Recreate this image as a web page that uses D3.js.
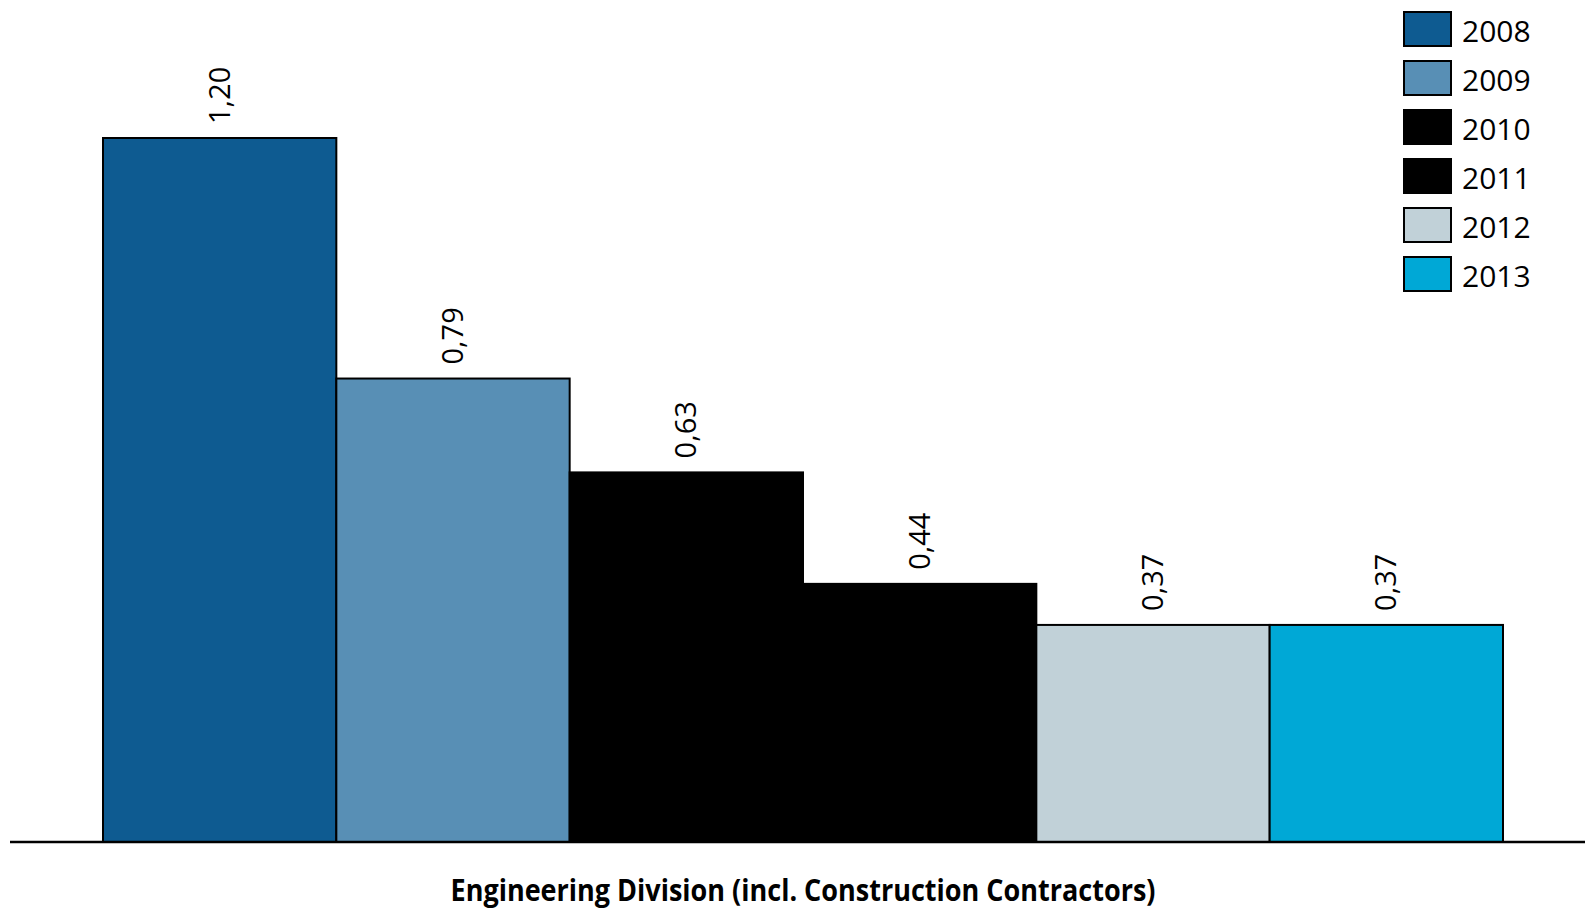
<!DOCTYPE html>
<html>
<head>
<meta charset="utf-8">
<script src="https://cdn.jsdelivr.net/npm/d3@7"></script>
<style>
    body{margin:0;background:#fff;}
    .canvas{width:1585px;height:909px;}
    text{font-family:"Open Sans",sans-serif;fill:#000;}
    .title{font-family:"Liberation Sans Narrow","Open Sans",sans-serif;font-weight:bold;}
</style>
</head>
<body>
<div class="canvas" id="canvas"></div>
<script>
//data
var category = 'Engineering Division (incl. Construction Contractors)';
var years = ['2008','2009','2010','2011','2012','2013'];
var values = [1.20, 0.79, 0.63, 0.44, 0.37, 0.37];
var colors = ['#0e5b91','#588fb5','#000000','#000000','#c1d1d8','#00a8d6'];

var outerWidth = document.getElementById('canvas').clientWidth,
    outerHeight = document.getElementById('canvas').clientHeight;

var svg = d3.select('.canvas')
    .append('svg')
    .attr('width',outerWidth)
    .attr('height',outerHeight);

var locale = d3.formatLocale({decimal:',',thousands:'.',grouping:[3],currency:['','']});
var fmt = locale.format('.2f');

var scaleX = d3.scaleBand()
    .domain(years)
    .range([103,1503])
    .padding(0);
var scaleY = d3.scaleLinear()
    .domain([0,1.2])
    .range([842,138]);
var scaleColor = d3.scaleOrdinal()
    .domain(years)
    .range(colors);

var rows = years.map(function(y,i){return {year:y,value:values[i]}});

//bars
svg.selectAll('.bar')
    .data(rows)
    .enter()
    .append('rect')
    .attr('class','bar')
    .attr('x',function(d){return scaleX(d.year)})
    .attr('y',function(d){return scaleY(d.value)})
    .attr('width',scaleX.bandwidth())
    .attr('height',function(d){return scaleY(0)-scaleY(d.value)})
    .style('fill',function(d){return scaleColor(d.year)})
    .style('stroke','#000')
    .style('stroke-width',2);

//value labels
svg.selectAll('.label')
    .data(rows)
    .enter()
    .append('text')
    .attr('class','label')
    .attr('transform',function(d){
        return 'translate('+(scaleX(d.year)+scaleX.bandwidth()/2)+','+(scaleY(d.value)-14)+') rotate(-90)';
    })
    .attr('dy','0.35em')
    .style('font-size','29px')
    .text(function(d){return fmt(d.value)});

//baseline
svg.append('line')
    .attr('x1',10)
    .attr('x2',outerWidth)
    .attr('y1',scaleY(0))
    .attr('y2',scaleY(0))
    .style('stroke','#000')
    .style('stroke-width',2.5);

//category label
svg.append('text')
    .attr('class','title')
    .attr('x',(scaleX.range()[0]+scaleX.range()[1])/2)
    .attr('y',901)
    .attr('text-anchor','middle')
    .attr('textLength',705)
    .attr('lengthAdjust','spacingAndGlyphs')
    .style('font-size','31px')
    .text(category);

//legend
var legend = svg.selectAll('.legend')
    .data(years)
    .enter()
    .append('g')
    .attr('class','legend')
    .attr('transform',function(d,i){return 'translate(1404,'+(12+i*49)+')'});
legend.append('rect')
    .attr('width',47)
    .attr('height',34)
    .style('fill',function(d){return scaleColor(d)})
    .style('stroke','#000')
    .style('stroke-width',2);
legend.append('text')
    .attr('x',58)
    .attr('y',30)
    .style('font-size','30px')
    .text(function(d){return d});
</script>
</body>
</html>
